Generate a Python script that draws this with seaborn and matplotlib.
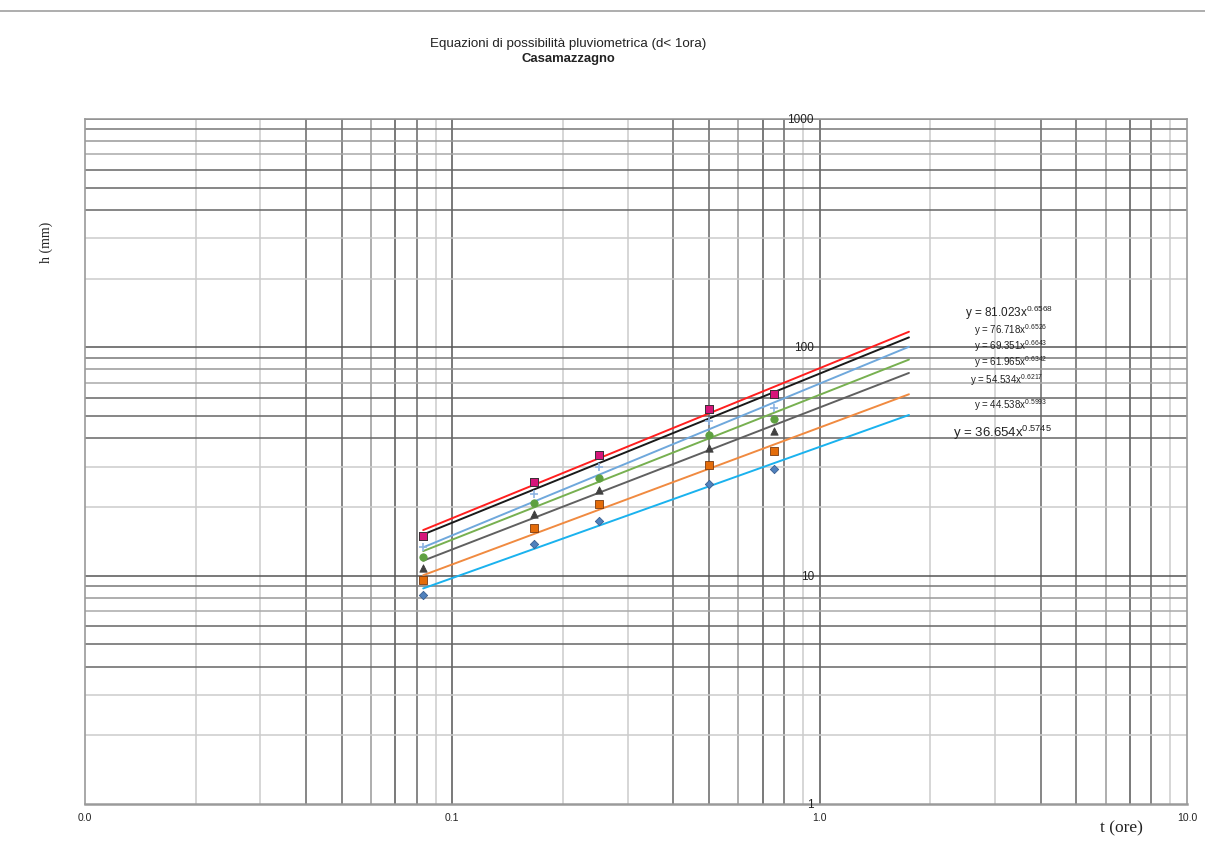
import numpy as np
import pandas as pd
import matplotlib
matplotlib.use("Agg")
import matplotlib.pyplot as plt
import seaborn as sns

# ---------------- data ----------------
durations = [0.0833, 0.1667, 0.25, 0.5, 0.75]          # t (ore)
h_s1 = [14.97, 25.8, 33.9, 53.5, 62.2]
h_s2 = [14.97, 25.8, 33.9, 53.5, 62.2]
h_s3 = [13.4, 22.9, 29.8, 47.4, 54.0]
h_s4 = [12.1, 20.9, 26.9, 41.5, 48.3]
h_s5 = [10.8, 18.7, 23.8, 36.4, 42.8]
h_s6 = [9.6, 16.1, 20.5, 30.4, 35.0]
h_s7 = [8.26, 13.7, 17.3, 25.1, 29.2]
series_h = [h_s1, h_s2, h_s3, h_s4, h_s5, h_s6, h_s7]

coef_a = [81.023, 76.718, 69.351, 61.965, 54.534, 44.538, 36.654]
coef_n = [0.6568, 0.6526, 0.6643, 0.6342, 0.6217, 0.5993, 0.5745]
trend_range = [0.0833, 1.75]

x_ticks = [0.01, 0.1, 1, 10]
x_ticklabels = ["0.0", "0.1", "1.0", "10.0"]
y_ticks = [1, 10, 100, 1000]
y_ticklabels = ["1", "10", "100", "1000"]

# ---------------- style ----------------
line_colors = ["#ff1f1f", "#1a1a1a", "#6fa8dc", "#77b050", "#606060", "#f08a40", "#1ab2ee"]
mk_colors = ["#d6157a", "#1a1a1a", "#8db4e2", "#5ea040", "#404040", "#e46c0a", "#4f81bd"]
mk_shapes = ["s", "s", "+", "o", "^", "s", "D"]
mk_sizes = [26, 34, 32, 28, 28, 27, 18]
mk_edges = ["#333333", "#1a1a1a", "#8db4e2", "#5ea040", "#404040", "#7a3a10", "#3a5f90"]
mk_lw = [0.6, 0.6, 1.2, 0.6, 0.6, 0.6, 0.6]

sns.set_style("white")
plt.rcParams["font.family"] = ["Liberation Sans", "DejaVu Sans"]
plt.rcParams["mathtext.fontset"] = "custom"
plt.rcParams["mathtext.rm"] = "Liberation Sans"
plt.rcParams["mathtext.it"] = "Liberation Sans"

fig = plt.figure(figsize=(12.05, 8.45), dpi=100)
ax = fig.add_axes([85 / 1205, 40 / 845, 1102 / 1205, 685 / 845])
ax.set_xscale("log")
ax.set_yscale("log")
ax.set_xlim(0.01, 10)
ax.set_ylim(1, 1000)

# grid lines
vshade = {1: "#555555", 2: "#cccccc", 3: "#cccccc", 4: "#666666", 5: "#666666",
          6: "#999999", 7: "#555555", 8: "#666666", 9: "#cccccc"}
hshade = {1: "#555555", 2: "#cccccc", 3: "#cccccc", 4: "#666666", 5: "#666666",
          6: "#666666", 7: "#aaaaaa", 8: "#999999", 9: "#777777"}
for dec in [0.01, 0.1, 1]:
    for m in range(1, 10):
        v = dec * m
        if v <= 0.01:
            continue
        ax.axvline(v, color=vshade[m], lw=1.1, zorder=0)
for dec in [1, 10, 100]:
    for m in range(1, 10):
        v = dec * m
        if v <= 1:
            continue
        ax.axhline(v, color=hshade[m], lw=1.1, zorder=0)
ax.axhline(1000, color="#555555", lw=1.1, zorder=0)

# trend lines
for i in range(7):
    xt = np.array(trend_range)
    yt = coef_a[i] * xt ** coef_n[i]
    sns.lineplot(x=xt, y=yt, ax=ax, color=line_colors[i], lw=1.4, zorder=3,
                 legend=False)

# data points (series 2 beneath series 1)
order = [1, 0, 2, 3, 4, 5, 6]
for i in order:
    df = pd.DataFrame({"t": durations, "h": series_h[i]})
    kw = dict(edgecolor=mk_edges[i]) if mk_shapes[i] != "+" else {}
    sns.scatterplot(data=df, x="t", y="h", ax=ax, marker=mk_shapes[i],
                    s=mk_sizes[i], color=mk_colors[i], linewidth=mk_lw[i],
                    zorder=4 if i != 1 else 3.5, legend=False, **kw)

# equations
eq_pos = [(0.799, 0.718, 8.5), (0.807, 0.693, 7), (0.807, 0.670, 7),
          (0.807, 0.647, 7), (0.803, 0.620, 7), (0.807, 0.584, 7),
          (0.788, 0.543, 9.5)]
for i in range(7):
    xf, yf, fs = eq_pos[i]
    ax.text(xf, yf, "y = %.3fx$^{%.4f}$" % (coef_a[i], coef_n[i]),
            transform=ax.transAxes, fontsize=fs, color="#222222",
            va="center", ha="left", zorder=5)

# ticks
ax.set_xticks(x_ticks)
ax.set_xticklabels(x_ticklabels, fontsize=7.5, color="#222222")
ax.set_yticks([])
ax.minorticks_off()
ax.set_xticks([], minor=True)
ax.set_yticks([], minor=True)
ax.tick_params(axis="x", length=0, pad=6)
for v, lab in zip(y_ticks, y_ticklabels):
    ax.text(0.965, v, lab, fontsize=8.5, color="#222222", ha="right",
            va="center", zorder=5)

for sp in ax.spines.values():
    sp.set_color("#9a9a9a")
    sp.set_linewidth(1.2)
ax.spines["bottom"].set_linewidth(1.8)

ax.set_xlabel("")
ax.set_ylabel("")

# labels
fig.text(1121 / 1205, 1 - 828 / 845, "t (ore)", family="Liberation Serif",
         fontsize=12.5, ha="center", va="center", color="#222222")
fig.text(46 / 1205, 1 - 242 / 845, "h (mm)", family="Liberation Serif",
         fontsize=10, ha="center", va="center", rotation=90, color="#222222")

fig.text(568 / 1205, 1 - 44 / 845,
         "Equazioni di possibilità pluviometrica (d< 1ora)",
         fontsize=9.6, ha="center", va="center", color="#222222")
fig.text(568 / 1205, 1 - 59 / 845, "Casamazzagno", fontsize=9.4,
         fontweight="bold", ha="center", va="center", color="#222222")

# page border line
fig.add_artist(plt.Line2D([0, 1], [1 - 12 / 845, 1 - 12 / 845],
                          transform=fig.transFigure, color="#a0a0a0", lw=1.2))

fig.savefig("out.png", dpi=100, facecolor="white")
